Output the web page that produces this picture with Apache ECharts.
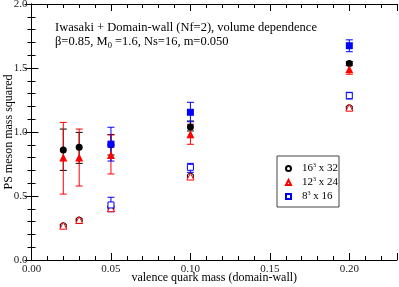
<!DOCTYPE html>
<html><head><meta charset="utf-8">
<script src="https://cdn.jsdelivr.net/npm/echarts@6/dist/echarts.min.js"></script>
<style>html,body{margin:0;padding:0;background:#fff}#c{width:399px;height:287px}</style>
</head><body><div id="c"></div>
<script>
// x-axis tick labels / y-axis tick labels
const xTickLabels = ['0.00','0.05','0.10','0.15','0.20'];
const yTickLabels = ['0.0','0.5','1.0','1.5','2.0'];

// Filled symbols (upper group)
const fill16X = [0.02, 0.03, 0.05, 0.10, 0.20];
const fill16Y = [0.86, 0.88, 0.90, 1.04, 1.535];
const fill16Lo = [0.70, 0.755, 0.82, 1.008, 1.52];
const fill16Hi = [1.023, 0.997, 0.98, 1.086, 1.55];

const fill12X = [0.02, 0.03, 0.05, 0.10, 0.20];
const fill12Y = [0.80, 0.80, 0.82, 0.982, 1.49];
const fill12Lo = [0.515, 0.578, 0.672, 0.904, 1.451];
const fill12Hi = [1.075, 1.023, 0.977, 1.06, 1.52];

const fill8X = [0.05, 0.10, 0.20];
const fill8Y = [0.905, 1.154, 1.674];
const fill8Lo = [0.773, 1.08, 1.627];
const fill8Hi = [1.037, 1.232, 1.72];

// Open symbols (lower group, legend)
const open16X = [0.02, 0.03, 0.05, 0.10, 0.20];
const open16Y = [0.268, 0.3125, 0.41, 0.656, 1.19];
const open16Lo = [0.26, 0.305, 0.40, 0.648, 1.182];
const open16Hi = [0.276, 0.32, 0.42, 0.664, 1.198];

const open12X = [0.02, 0.03, 0.05, 0.10, 0.20];
const open12Y = [0.268, 0.3125, 0.405, 0.652, 1.19];
const open12Lo = [0.258, 0.302, 0.39, 0.642, 1.18];
const open12Hi = [0.278, 0.322, 0.42, 0.662, 1.20];

const open8X = [0.05, 0.10, 0.20];
const open8Y = [0.43, 0.724, 1.284];
const open8Lo = [0.377, 0.685, 1.258];
const open8Hi = [0.49, 0.755, 1.31];

const legendNames = {'L16': ['16','3',' x 32'], 'L12': ['12','3',' x 24'], 'L8': ['8','3',' x 16']};

const FONT = '"Liberation Serif", "Times New Roman", serif';
const BLACK = '#000000', RED = '#ff0000', BLUE = '#0000ff';

function pts(xs, ys) { return xs.map((x, i) => [x, ys[i]]); }
function errs(xs, lo, hi) { return xs.map((x, i) => [x, lo[i], hi[i]]); }

function errSeries(name, xs, lo, hi, color) {
  return {
    type: 'custom', name: name, xAxisIndex: 0, yAxisIndex: 0, silent: true, z: 3,
    data: errs(xs, lo, hi),
    renderItem: function (params, api) {
      const x = api.value(0);
      const a = api.coord([x, api.value(2)]);
      const b = api.coord([x, api.value(1)]);
      const w = 3.5;
      const st = { stroke: color, lineWidth: 1 };
      return { type: 'group', children: [
        { type: 'line', shape: { x1: a[0], y1: a[1], x2: b[0], y2: b[1] }, style: st },
        { type: 'line', shape: { x1: a[0] - w, y1: a[1], x2: a[0] + w, y2: a[1] }, style: st },
        { type: 'line', shape: { x1: b[0] - w, y1: b[1], x2: b[0] + w, y2: b[1] }, style: st }
      ]};
    }
  };
}
function scat(name, xs, ys, symbol, size, color, filled) {
  return {
    type: 'scatter', name: name, xAxisIndex: 0, yAxisIndex: 0, z: 4,
    symbol: symbol, symbolSize: size,
    itemStyle: filled ? { color: color, borderWidth: 0, opacity: 1 } : { color: '#ffffff', borderColor: color, borderWidth: 1, opacity: 1 },
    data: pts(xs, ys)
  };
}

function isMult(v, step) { return Math.abs(v / step - Math.round(v / step)) < 1e-6; }

const majorTick = { show: true, inside: true, length: 7, lineStyle: { color: '#000', width: 1 } };
const minorTickX = { show: true, inside: true, length: 4, lineStyle: { color: '#000', width: 1 } };
const axisLine = { show: true, lineStyle: { color: '#000', width: 1 } };

const chart = echarts.init(document.getElementById('c'), null, { renderer: 'canvas' });
chart.setOption({
  animation: false,
  backgroundColor: '#ffffff',
  grid: { left: 31.5, right: 2, top: 4, bottom: 27, containLabel: false, outerBoundsMode: 'none' },
  title: [
    { text: 'Iwasaki + Domain-wall (Nf=2), volume dependence', left: 55, top: 21.5, padding: 0,
      textStyle: { fontFamily: FONT, fontSize: 12.5, fontWeight: 'normal', color: '#000' } },
    { text: '{a|β=0.85, M}{b|0}{a| =1.6, Ns=16, m=0.050}', left: 55, top: 34, padding: 0,
      textStyle: { fontWeight: 'normal', rich: {
        a: { fontFamily: FONT, fontSize: 12.5, fontWeight: 'normal', color: '#000' },
        b: { fontFamily: FONT, fontSize: 8.5, fontWeight: 'normal', color: '#000', padding: [7, 0, 0, 0] }
      } } }
  ],
  legend: {
    orient: 'vertical', left: 277, top: 156,
    data: ['L16', 'L12', 'L8'],
    itemWidth: 5, itemHeight: 5, itemGap: 2,
    padding: [6, 1, 5, 8],
    borderColor: '#444', borderWidth: 1, backgroundColor: '#fff',
    formatter: function (n) { const p = legendNames[n]; return '{a|' + p[0] + '}{s|' + p[1] + '}{a|' + p[2] + '}'; },
    textStyle: { rich: {
      a: { fontFamily: FONT, fontSize: 11, color: '#000' },
      s: { fontFamily: FONT, fontSize: 6, color: '#000', padding: [0, 0, 7, 0] }
    }, padding: [0, 0, 0, 6] }
  },
  xAxis: [
    { type: 'value', position: 'bottom', min: 0, max: 0.23, interval: 0.05,
      axisLine: axisLine, axisTick: majorTick, splitLine: { show: false },
      axisLabel: { margin: 4, fontFamily: FONT, fontSize: 11, color: '#222', showMaxLabel: true,
        formatter: function (v) { return isMult(v, 0.05) ? xTickLabels[Math.round(v / 0.05)] : ''; } },
      name: 'valence quark mass (domain-wall)', nameLocation: 'middle', nameGap: 12, nameMoveOverlap: false,
      nameTextStyle: { fontFamily: FONT, fontSize: 12, color: '#000', verticalAlign: 'top' } },
    { type: 'value', position: 'bottom', min: 0, max: 0.23, interval: 0.01,
      axisLine: { show: false }, axisTick: minorTickX, axisLabel: { show: false }, splitLine: { show: false } },
    { type: 'value', position: 'top', min: 0, max: 0.23, interval: 0.05,
      axisLine: axisLine, axisTick: majorTick, axisLabel: { show: false }, splitLine: { show: false } },
    { type: 'value', position: 'top', min: 0, max: 0.23, interval: 0.01,
      axisLine: { show: false }, axisTick: minorTickX, axisLabel: { show: false }, splitLine: { show: false } }
  ],
  yAxis: [
    { type: 'value', position: 'left', min: 0, max: 2, interval: 0.5,
      axisLine: axisLine, axisTick: majorTick, splitLine: { show: false },
      minorTick: { show: true, splitNumber: 5, length: 4, lineStyle: { color: '#000' } },
      axisLabel: { margin: 4, fontFamily: FONT, fontSize: 11, color: '#222',
        formatter: function (v) { return yTickLabels[Math.round(v / 0.5)]; } },
      name: 'PS meson mass squared', nameLocation: 'middle', nameGap: 17, nameRotate: 90, nameMoveOverlap: false,
      nameTextStyle: { fontFamily: FONT, fontSize: 12, color: '#000', verticalAlign: 'bottom' } },
    { type: 'value', position: 'right', min: 0, max: 2, interval: 0.5,
      axisLine: axisLine, axisTick: majorTick, splitLine: { show: false },
      minorTick: { show: true, splitNumber: 5, length: 4, lineStyle: { color: '#000' } },
      axisLabel: { show: false } }
  ],
  series: [
    errSeries('e16f', fill16X, fill16Lo, fill16Hi, BLACK),
    scat('F16', fill16X, fill16Y, 'circle', 7, BLACK, true),
    errSeries('e12f', fill12X, fill12Lo, fill12Hi, RED),
    scat('F12', fill12X, fill12Y, 'triangle', 8, RED, true),
    errSeries('e8f', fill8X, fill8Lo, fill8Hi, BLUE),
    scat('F8', fill8X, fill8Y, 'rect', 7, BLUE, true),
    errSeries('e16o', open16X, open16Lo, open16Hi, BLACK),
    scat('L16', open16X, open16Y, 'circle', 6, BLACK, false),
    errSeries('e12o', open12X, open12Lo, open12Hi, RED),
    scat('L12', open12X, open12Y, 'triangle', 7, RED, false),
    errSeries('e8o', open8X, open8Lo, open8Hi, BLUE),
    scat('L8', open8X, open8Y, 'rect', 6, BLUE, false)
  ]
});
</script></body></html>
